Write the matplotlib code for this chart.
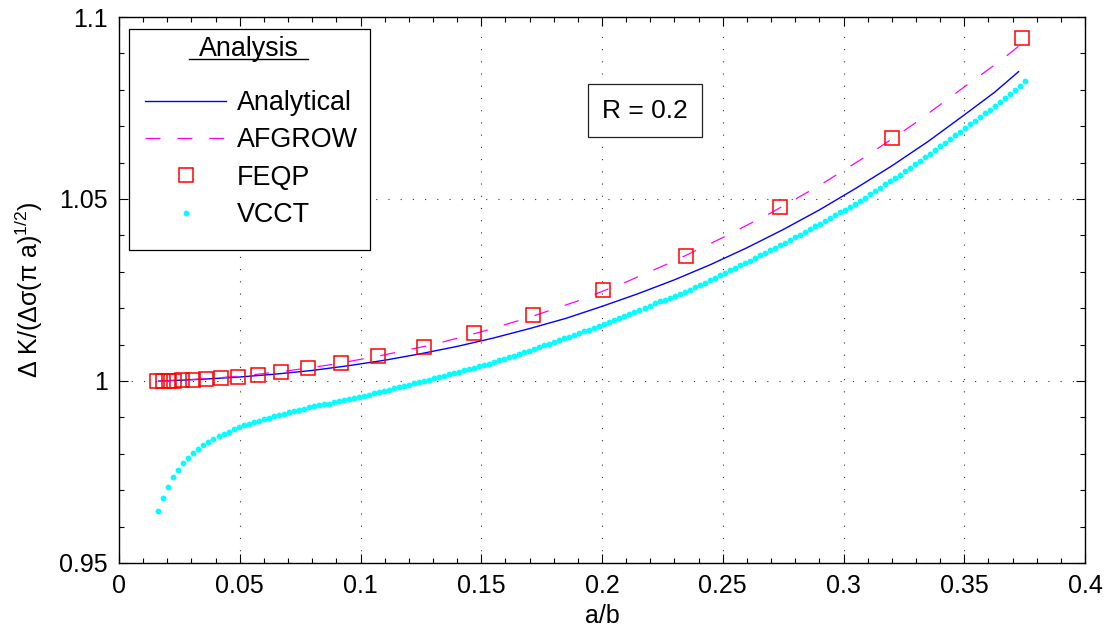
import numpy as np
import matplotlib
matplotlib.use('Agg')
import matplotlib.pyplot as plt
from matplotlib.lines import Line2D
from matplotlib.patches import Rectangle
from matplotlib.ticker import MultipleLocator, FixedLocator, FixedFormatter

plt.rcParams['font.family'] = ['Liberation Sans', 'DejaVu Sans']
plt.rcParams['mathtext.fontset'] = 'custom'
plt.rcParams['mathtext.rm'] = 'Liberation Sans'
plt.rcParams['mathtext.it'] = 'Liberation Sans:italic'

# --- data ---
analytical_x = [0.0165, 0.025, 0.035, 0.05, 0.065, 0.08, 0.095, 0.11, 0.125, 0.14,
                0.155, 0.17, 0.185, 0.2, 0.215, 0.23, 0.245, 0.26, 0.275, 0.29,
                0.305, 0.32, 0.335, 0.35, 0.3625, 0.3725]
analytical_y = [1.0000, 1.0002, 1.0005, 1.0011, 1.0019, 1.0029, 1.0042, 1.0057, 1.0075, 1.0095,
                1.0118, 1.0144, 1.0172, 1.0205, 1.0240, 1.0278, 1.0320, 1.0366, 1.0416, 1.0470,
                1.0529, 1.0591, 1.0658, 1.0731, 1.0793, 1.0850]

afgrow_x = [0.0165, 0.03, 0.05, 0.07, 0.09, 0.11, 0.13, 0.15, 0.17, 0.19,
            0.21, 0.23, 0.25, 0.27, 0.29, 0.31, 0.33, 0.35, 0.365, 0.3735]
afgrow_y = [1.0000, 1.0004, 1.0013, 1.0028, 1.0047, 1.0072, 1.0100, 1.0135, 1.0175, 1.0220,
            1.0272, 1.0330, 1.0394, 1.0462, 1.0537, 1.0620, 1.0710, 1.0808, 1.0880, 1.0925]

feqp_x = [0.0159, 0.0184, 0.0207, 0.0228, 0.0262, 0.0305, 0.0360, 0.0421, 0.0494, 0.0575,
          0.0671, 0.0784, 0.0920, 0.1074, 0.1263, 0.1471, 0.1716, 0.2004, 0.2349, 0.2738,
          0.3201, 0.3740]
feqp_y = [1.0000, 1.0000, 1.0001, 1.0001, 1.0002, 1.0004, 1.0006, 1.0008, 1.0012, 1.0017,
          1.0024, 1.0035, 1.0049, 1.0069, 1.0093, 1.0131, 1.0180, 1.0249, 1.0343, 1.0478,
          1.0668, 1.0943]

vcct_y = [0.9643, 0.9679, 0.9710, 0.9735, 0.9756, 0.9774, 0.9788, 0.9801, 0.9813, 0.9824,
          0.9833, 0.9841, 0.9849, 0.9855, 0.9861, 0.9867, 0.9873, 0.9878, 0.9883, 0.9887,
          0.9891, 0.9896, 0.9899, 0.9903, 0.9907, 0.9910, 0.9914, 0.9918, 0.9921, 0.9924,
          0.9928, 0.9930, 0.9933, 0.9936, 0.9938, 0.9941, 0.9944, 0.9947, 0.9950, 0.9952,
          0.9956, 0.9959, 0.9962, 0.9966, 0.9969, 0.9973, 0.9976, 0.9980, 0.9983, 0.9987,
          0.9990, 0.9994, 0.9997, 1.0001, 1.0004, 1.0008, 1.0011, 1.0015, 1.0018, 1.0022,
          1.0025, 1.0029, 1.0032, 1.0036, 1.0040, 1.0044, 1.0048, 1.0052, 1.0057, 1.0061,
          1.0065, 1.0070, 1.0074, 1.0079, 1.0083, 1.0088, 1.0093, 1.0098, 1.0102, 1.0107,
          1.0112, 1.0117, 1.0121, 1.0126, 1.0131, 1.0136, 1.0140, 1.0145, 1.0150, 1.0156,
          1.0161, 1.0167, 1.0173, 1.0178, 1.0184, 1.0190, 1.0195, 1.0201, 1.0207, 1.0213,
          1.0219, 1.0222, 1.0228, 1.0234, 1.0239, 1.0245, 1.0251, 1.0257, 1.0264, 1.0270,
          1.0277, 1.0284, 1.0290, 1.0297, 1.0304, 1.0311, 1.0318, 1.0324, 1.0331, 1.0338,
          1.0345, 1.0352, 1.0359, 1.0366, 1.0373, 1.0380, 1.0388, 1.0395, 1.0402, 1.0410,
          1.0417, 1.0425, 1.0432, 1.0440, 1.0447, 1.0455, 1.0463, 1.0471, 1.0479, 1.0487,
          1.0495, 1.0504, 1.0513, 1.0522, 1.0531, 1.0540, 1.0549, 1.0558, 1.0567, 1.0576,
          1.0586, 1.0596, 1.0605, 1.0615, 1.0625, 1.0635, 1.0645, 1.0655, 1.0665, 1.0675,
          1.0685, 1.0695, 1.0705, 1.0715, 1.0725, 1.0735, 1.0745, 1.0756, 1.0766, 1.0777,
          1.0788, 1.0799, 1.0811, 1.0823]
# VCCT points are evenly spaced in a/b
vcct_x = np.linspace(0.0163, 0.3753, len(vcct_y))

xticks = [0, 0.05, 0.1, 0.15, 0.2, 0.25, 0.3, 0.35, 0.4]
xticklabels = ['0', '0.05', '0.1', '0.15', '0.2', '0.25', '0.3', '0.35', '0.4']
yticks = [0.95, 1.0, 1.05, 1.1]
yticklabels = ['0.95', '1', '1.05', '1.1']

fig = plt.figure(figsize=(11.09, 6.37), dpi=100)
ax = fig.add_axes([0.1073, 0.1162, 0.8711, 0.8571])

ax.plot(analytical_x, analytical_y, color='#0000ff', lw=1.0, label='Analytical', zorder=3)
ax.plot(afgrow_x, afgrow_y, color='#ff00ff', lw=0.9, linestyle=(0, (12, 13.5)),
        label='AFGROW', zorder=3)
ax.plot(feqp_x, feqp_y, linestyle='none', marker='s', ms=9.5, mfc='none', mec='#ff0000',
        mew=1.1, label='FEQP', zorder=4)
ax.plot(vcct_x, vcct_y, linestyle='none', marker='o', ms=4.2, mfc='#00ffff', mec='#00ffff',
        mew=0, label='VCCT', zorder=3)

ax.set_xlim(0, 0.4)
ax.set_ylim(0.95, 1.1)
ax.xaxis.set_major_locator(FixedLocator(xticks))
ax.xaxis.set_major_formatter(FixedFormatter(xticklabels))
ax.yaxis.set_major_locator(FixedLocator(yticks))
ax.yaxis.set_major_formatter(FixedFormatter(yticklabels))
ax.xaxis.set_minor_locator(MultipleLocator(0.01))
ax.yaxis.set_minor_locator(MultipleLocator(0.01))

ax.tick_params(which='both', direction='in', top=True, right=True, width=0.8,
               labelsize=18, colors='k')
ax.tick_params(which='major', length=6.5, pad=8)
ax.tick_params(which='minor', length=3.6)
for sp in ax.spines.values():
    sp.set_linewidth(1.0)

ax.grid(True, which='major', color='#333333', lw=0.8, linestyle=(0, (1, 10)))

ax.set_xlabel('a/b', fontsize=18, labelpad=4)
ax.set_ylabel(r'Δ K/(Δσ(π a)$^{1/2}$)', fontsize=18, labelpad=10)

ax.text(0.2178, 1.0743, 'R = 0.2', fontsize=19, ha='center', va='center', zorder=6,
        bbox=dict(boxstyle='square,pad=0.55', fc='white', ec='#222222', lw=0.9))

# legend: frame, title and entries laid out like the original
W, H = fig.bbox.width, fig.bbox.height
axw, axh = ax.bbox.width, ax.bbox.height
frame = Rectangle((0.0104, 0.5733), 0.2495, 0.4047, transform=ax.transAxes,
                  fc='white', ec='k', lw=0.9, zorder=9, clip_on=False)
ax.add_patch(frame)

title = ax.text(0.134, 0.9277, 'Analysis', fontsize=19.4, ha='center', va='baseline',
                transform=ax.transAxes, zorder=11)

leg = ax.legend(loc='upper left', bbox_to_anchor=(0.03, 0.87), fontsize=19.4,
                frameon=False, borderaxespad=0, borderpad=0, handlelength=3.0,
                handletextpad=0.4, labelspacing=0.42, numpoints=1)
leg.set_zorder(10)

# nudge the legend so the first label sits where it does in the original
fig.canvas.draw()
t0 = leg.get_texts()[0].get_window_extent()
want_x, want_y = 237, H - 103
dx = want_x - t0.x0
dy = want_y - (t0.y0 + t0.y1) / 2
leg.set_bbox_to_anchor((0.03 + dx / axw, 0.87 + dy / axh), transform=ax.transAxes)

fig.canvas.draw()
bb = title.get_window_extent()
ul = Line2D([(bb.x0 - 10) / W, (bb.x1 + 10) / W], [(H - 58.5) / H] * 2,
            transform=fig.transFigure, color='k', lw=1.0, zorder=20)
fig.add_artist(ul)

fig.savefig('out.png', dpi=100)
